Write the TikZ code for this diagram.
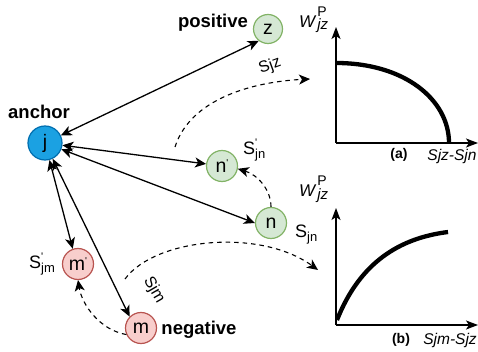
\documentclass[tikz,border=0pt]{standalone}
\usepackage{fontspec}
\setmainfont{Liberation Sans}
\usetikzlibrary{arrows.meta,positioning}

\definecolor{anchorfill}{HTML}{1BA1E2}
\definecolor{anchorline}{HTML}{006EAF}
\definecolor{posfill}{HTML}{D5E8D4}
\definecolor{posline}{HTML}{82B366}
\definecolor{negfill}{HTML}{F8CECC}
\definecolor{negline}{HTML}{B85450}

\newcommand{\fs}[1]{\fontsize{#1}{#1}\selectfont}
\newcommand{\prm}{\raisebox{6pt}{\fs{10}\textquotesingle}}
\newcommand{\slab}[2]{S\rlap{\raisebox{8pt}{\fs{11}#1}}\raisebox{-4pt}{\fs{13}#2}}
\newcommand{\wlab}{{\itshape W}\hspace{2pt}\rlap{\raisebox{11pt}{\fs{14}P}}\raisebox{-2pt}{\fs{15}\itshape jz}}

\begin{document}
\begin{tikzpicture}[x=1pt, y=-1pt,
  sample/.style={circle, draw, line width=1.2pt, minimum size=31pt,
                 inner sep=0pt, font=\fs{19.5}},
  anchorsample/.style={sample, fill=anchorfill, draw=anchorline, minimum size=34pt},
  possample/.style={sample, fill=posfill, draw=posline},
  negsample/.style={sample, fill=negfill, draw=negline},
  rolelabel/.style={font=\bfseries\fs{18.5}, inner sep=0pt},
  simlabel/.style={font=\fs{18}, inner sep=0pt, anchor=base west},
  link/.style={{Stealth[length=11pt,width=10pt,inset=3pt]}-{Stealth[length=11pt,width=10pt,inset=3pt]},
               line width=1.3pt},
  simflow/.style={-{Stealth[length=11pt,width=10pt,inset=3pt]}, line width=1.1pt,
                  dash pattern=on 4.5pt off 4pt},
  axisline/.style={-{Stealth[length=12pt,width=9pt,inset=3pt]}, line width=1.3pt},
  weight/.style={line width=4.3pt},
  axislabel/.style={font=\itshape\fs{15.5}, inner sep=0pt},
  plottag/.style={font=\bfseries\fs{14}, inner sep=0pt},
]
\useasboundingbox (0,0) rectangle (478,352);

% Samples
\node[anchorsample] (j)  at (45,143)  {j};
\node[possample, minimum size=29pt] (z) at (268,29) {z};
\node[possample]    (np) at (222,166) {n\prm};
\node[possample]    (n)  at (271,223) {n};
\node[negsample]    (mp) at (78,264)  {m\prm};
\node[negsample]    (m)  at (141,328) {m};

% Roles
\node[rolelabel] (poslab) at (213,23)  {positive};
\node[rolelabel] (anclab) at (39,112)  {anchor};
\node[rolelabel] (neglab) at (199,330) {negative};

% Pairs
\draw[link] (j) -- (z.232);
\draw[link] (j) -- (np);
\draw[link] (j) -- (n.west);
\draw[link] (j) -- (mp.109);
\draw[link] (j) -- (m.135);

% Similarities
\node[simlabel] (snp) at (243,155) {\slab{\textquotesingle}{jn}};
\node[simlabel] (sn)  at (295,237) {\slab{}{jn}};
\node[simlabel] (smp) at (29,268)  {\slab{\textquotesingle}{jm}};
\node[font=\fs{16}, rotate=20]  (sjz) at (270,66)  {Sjz};
\node[font=\fs{16}, rotate=-60] (sjm) at (154,290) {Sjm};

\draw[simflow] (n.90) .. controls (271,190) and (258,175) .. (np.-10);
\draw[simflow] (m.204) .. controls (100,330) and (82,305) .. (mp.-90);

\coordinate (sjzfrom) at (175,147);
\coordinate (sjzto)   at (310,79);
\coordinate (sjmfrom) at (125,279);
\coordinate (sjmto)   at (318,270);
\draw[simflow] (sjzfrom) .. controls (190,100) and (250,82) .. (sjzto);
\draw[simflow] (sjmfrom) .. controls (155,238) and (260,228) .. (sjmto);

% Plot (a)
\coordinate (oa) at (336,143);
\draw[axisline] (oa) -- (336,27);
\draw[axisline] (oa) -- (478,143);
\draw[weight] (336,63) .. controls (405,63) and (449,100) .. (449,143);
\node[font=\fs{17}, inner sep=0pt, anchor=base west] (wa) at (299,28) {\wlab};
\node[plottag]   (taga) at (399,155) {(a)};
\node[axislabel] (xa)   at (452,156) {Sjz-Sjn};

% Plot (b)
\coordinate (ob) at (336,325);
\draw[axisline] (ob) -- (336,208);
\draw[axisline] (ob) -- (478,325);
\draw[weight] (337,320) .. controls (360,262) and (400,238) .. (448,232);
\node[font=\fs{17}, inner sep=0pt, anchor=base west] (wb) at (299,197) {\wlab};
\node[plottag]   (tagb) at (401,340) {(b)};
\node[axislabel] (xb)   at (450,340) {Sjm-Sjz};

\end{tikzpicture}
\end{document}
